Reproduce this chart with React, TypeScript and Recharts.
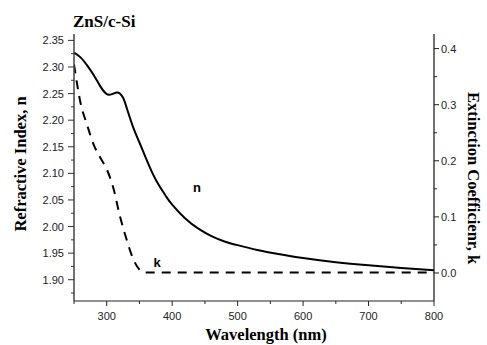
import React from 'react';
import { LineChart, Line, XAxis, YAxis, ReferenceDot } from 'recharts';

// refractive index n (solid)
const nWavelength = [250, 260, 270, 280, 290, 300, 308, 315, 320, 325, 330, 340, 350, 360, 370, 380, 390, 400, 420, 440, 460, 480, 500, 530, 560, 600, 650, 700, 750, 800];
const nValues = [2.327, 2.318, 2.303, 2.285, 2.264, 2.249, 2.249, 2.252, 2.25, 2.242, 2.225, 2.188, 2.158, 2.128, 2.1, 2.077, 2.058, 2.041, 2.015, 1.996, 1.982, 1.972, 1.965, 1.956, 1.949, 1.941, 1.933, 1.927, 1.922, 1.918];

// extinction coefficient k (dashed)
const kWavelength = [250, 255, 260, 270, 280, 290, 300, 310, 320, 330, 340, 350, 357, 400, 500, 600, 700, 800];
const kValues = [0.372, 0.335, 0.303, 0.264, 0.229, 0.206, 0.185, 0.152, 0.102, 0.061, 0.026, 0.006, 0.001, 0.001, 0.001, 0.001, 0.001, 0.001];

const xTicks = [250, 300, 350, 400, 450, 500, 550, 600, 650, 700, 750, 800];
const nTicks = [1.875, 1.9, 1.925, 1.95, 1.975, 2.0, 2.025, 2.05, 2.075, 2.1, 2.125, 2.15, 2.175, 2.2, 2.225, 2.25, 2.275, 2.3, 2.325, 2.35];
const kTicks = [0, 0.05, 0.1, 0.15, 0.2, 0.25, 0.3, 0.35, 0.4];

const nData = nWavelength.map((w, i) => ({ w, n: nValues[i] }));
const kData = kWavelength.map((w, i) => ({ w, k: kValues[i] }));

const sans = 'Liberation Sans, Arial, sans-serif';
const serif = 'Liberation Serif, Times New Roman, serif';

const isMult = (v: number, step: number) => Math.abs(v / step - Math.round(v / step)) < 1e-6;

function LeftTick({ x, y, payload }: any) {
  const major = isMult(payload.value, 0.05);
  return (
    <g>
      <line x1={x} y1={y} x2={x - (major ? 6 : 3)} y2={y} stroke="#333" strokeWidth={1} />
      {major && (
        <text x={x - 10} y={y + 4} textAnchor="end" fontSize={11} fontFamily={sans} fill="#222">
          {payload.value.toFixed(2)}
        </text>
      )}
    </g>
  );
}

function RightTick({ x, y, payload }: any) {
  const major = isMult(payload.value, 0.1);
  return (
    <g>
      <line x1={x} y1={y} x2={x + (major ? 5 : 3)} y2={y} stroke="#222" strokeWidth={1} />
      {major && (
        <text x={x + 7} y={y + 4} textAnchor="start" fontSize={11} fontFamily={sans} fill="#222">
          {payload.value.toFixed(1)}
        </text>
      )}
    </g>
  );
}

function BottomTick({ x, y, payload }: any) {
  const major = isMult(payload.value, 100);
  return (
    <g>
      <line x1={x} y1={y} x2={x} y2={y + (major ? 5 : 3)} stroke="#222" strokeWidth={1} />
      {major && (
        <text x={x} y={y + 19} textAnchor="middle" fontSize={11} fontFamily={sans} fill="#222">
          {payload.value}
        </text>
      )}
    </g>
  );
}

function TopTick({ x, y }: any) {
  return <line x1={x} y1={y} x2={x} y2={y + 2} stroke="#555" strokeWidth={1} />;
}

export default function App() {
  return (
    <div style={{ position: 'absolute', left: 0, top: 0, width: 487, height: 345, background: '#fff' }}>
      <LineChart width={487} height={345} margin={{ top: 34, right: 0, bottom: 0, left: 0 }}>
        <XAxis
          xAxisId="b"
          dataKey="w"
          type="number"
          domain={[250, 800]}
          ticks={xTicks}
          allowDataOverflow
          height={44}
          tickLine={false}
          tickSize={0}
          tickMargin={0}
          axisLine={{ stroke: '#222', strokeWidth: 1.2 }}
          tick={BottomTick}
          interval={0}
        />
        <XAxis
          xAxisId="t"
          orientation="top"
          dataKey="w"
          type="number"
          domain={[250, 800]}
          ticks={xTicks}
          allowDataOverflow
          height={0}
          tickLine={false}
          tickSize={0}
          tickMargin={0}
          axisLine={{ stroke: '#111', strokeWidth: 1 }}
          tick={TopTick}
          interval={0}
        />
        <YAxis
          yAxisId="n"
          type="number"
          domain={[1.86, 2.362]}
          ticks={nTicks}
          allowDataOverflow
          width={74}
          tickLine={false}
          tickSize={0}
          tickMargin={0}
          axisLine={{ stroke: '#444', strokeWidth: 1.5 }}
          tick={LeftTick}
          interval={0}
        />
        <YAxis
          yAxisId="k"
          orientation="right"
          type="number"
          domain={[-0.05, 0.426]}
          ticks={kTicks}
          allowDataOverflow
          width={53}
          tickLine={false}
          tickSize={0}
          tickMargin={0}
          axisLine={{ stroke: '#111', strokeWidth: 1.2 }}
          tick={RightTick}
          interval={0}
        />
        <Line
          xAxisId="b"
          yAxisId="n"
          data={nData}
          dataKey="n"
          type="natural"
          stroke="#000"
          strokeWidth={2}
          dot={false}
          isAnimationActive={false}
        />
        <Line
          xAxisId="b"
          yAxisId="k"
          data={kData}
          dataKey="k"
          type="monotone"
          stroke="#000"
          strokeWidth={2}
          strokeDasharray="9 7"
          dot={false}
          isAnimationActive={false}
        />
        <ReferenceDot
          xAxisId="b"
          yAxisId="n"
          x={438}
          y={2.074}
          r={0}
          shape={(p: any) => (
            <text x={p.cx} y={p.cy + 5} textAnchor="middle" fontSize={13} fontWeight="bold" fontFamily={sans} fill="#000">
              n
            </text>
          )}
        />
        <ReferenceDot
          xAxisId="b"
          yAxisId="k"
          x={377}
          y={0.02}
          r={0}
          shape={(p: any) => (
            <text x={p.cx} y={p.cy + 5} textAnchor="middle" fontSize={13} fontWeight="bold" fontFamily={sans} fill="#000">
              k
            </text>
          )}
        />
        <text x={73} y={27} fontSize={17} fontWeight="bold" fontFamily={serif} fill="#000">
          ZnS/c-Si
        </text>
        <text x={266} y={340} textAnchor="middle" fontSize={16.5} fontWeight="bold" fontFamily={serif} fill="#000">
          Wavelength (nm)
        </text>
        <text
          x={26}
          y={164}
          textAnchor="middle"
          fontSize={16.5}
          fontWeight="bold"
          fontFamily={serif}
          fill="#000"
          transform="rotate(-90 26 164)"
        >
          Refractive Index, n
        </text>
        <text
          x={468}
          y={178}
          textAnchor="middle"
          fontSize={16.5}
          fontWeight="bold"
          fontFamily={serif}
          fill="#000"
          transform="rotate(90 468 178)"
        >
          Extinction Coefficienr, k
        </text>
      </LineChart>
    </div>
  );
}
